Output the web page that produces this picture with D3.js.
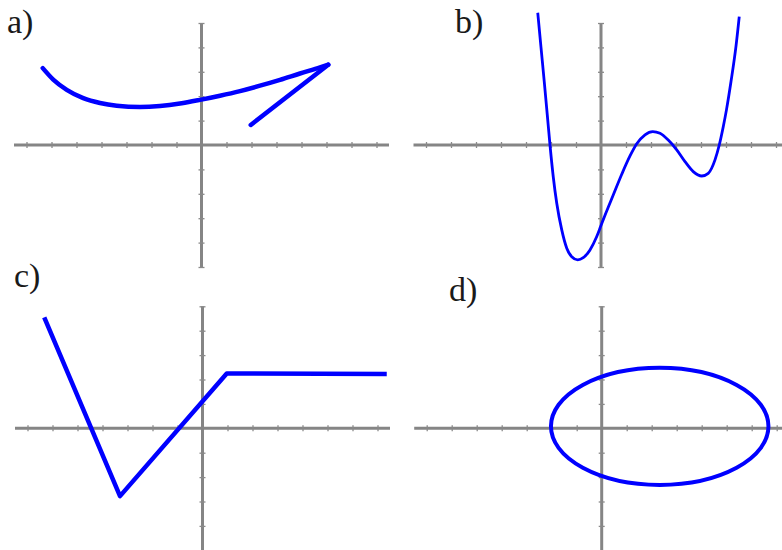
<!DOCTYPE html>
<html>
<head>
  <title>D3</title>
  <meta charset='utf-8'>
  <style>
    body { margin: 0; background: #fff; }
    svg { display: block; }
  </style>
</head>
<body>
  <div id="chart"></div>

  <script src="https://cdn.jsdelivr.net/npm/d3@7"></script>

  <script type="text/javascript">
    var width = 782,
        height = 550;

    // integer ticks on both axes
    var xTicks = [-7, -6, -5, -4, -3, -2, -1, 1, 2, 3, 4, 5, 6, 7];
    var yTicks = [-5, -4, -3, -2, -1, 1, 2, 3, 4, 5];

    var labels = ["a)", "b)", "c)", "d)"];

    // a) curve, ends in a sharp turn and a straight piece back
    var curveA = [
      [-6.35, 3.15], [-5.93, 2.68], [-5.39, 2.26], [-4.73, 1.92], [-4.06, 1.72],
      [-3.39, 1.61], [-2.46, 1.56], [-1.66, 1.60], [-0.86, 1.70], [-0.06, 1.85],
      [0.74, 2.02], [1.54, 2.21], [2.34, 2.43], [3.14, 2.67], [3.94, 2.93],
      [4.74, 3.18], [5.07, 3.29]
    ];
    var tailA = [[5.07, 3.29], [1.97, 0.82]];

    // b) wiggly curve
    var curveB = [
      [-2.53, 5.42], [-2.40, 4.00], [-2.27, 2.60], [-2.15, 1.25], [-2.04, 0],
      [-1.91, -1.30], [-1.77, -2.39], [-1.57, -3.48], [-1.37, -4.23], [-1.17, -4.58],
      [-0.93, -4.71], [-0.71, -4.62], [-0.44, -4.30], [-0.17, -3.75], [0, -3.30],
      [0.16, -2.88], [0.49, -2.05], [0.83, -1.20], [1.16, -0.45], [1.43, 0.05],
      [1.76, 0.42], [2.07, 0.55], [2.36, 0.48], [2.69, 0.20], [3.03, -0.20],
      [3.36, -0.68], [3.69, -1.09], [4.03, -1.27], [4.29, -1.16], [4.56, -0.61],
      [4.73, 0], [4.89, 0.75], [5.02, 1.45], [5.20, 2.60], [5.40, 4.05],
      [5.53, 5.26]
    ];

    // c) broken line
    var curveC = [[-6.33, 4.55], [-3.30, -2.78], [0.97, 2.25], [7.37, 2.23]];

    // d) ellipse: centre x, centre y, radius x, radius y
    var ellipseD = [2.32, 0.08, 4.35, 2.40];

    var panels = [
      {ox: 201.5, oy: 145,   lx: 7,   ly: 33,  type: "a"},
      {ox: 601,   oy: 145,   lx: 455, ly: 33,  type: "b"},
      {ox: 202.5, oy: 428.3, lx: 14,  ly: 287, type: "c"},
      {ox: 601.7, oy: 428.3, lx: 449, ly: 301, type: "d"}
    ];

    var chart = d3.select("#chart")
                  .append("svg")
                  .attr("width", width)
                  .attr("height", height);

    var blue = "#0000ff";

    panels.forEach(function(p, i) {
      var x = d3.scaleLinear().domain([-7.5, 7.5]).range([p.ox - 187.5, p.ox + 187.5]);
      var y = d3.scaleLinear().domain([-5, 5]).range([p.oy + 122, p.oy - 122]);
      var g = chart.append("g");

      // axis lines
      g.append("line")
        .attr("x1", x(-7.5)).attr("x2", x(7.5))
        .attr("y1", y(0)).attr("y2", y(0))
        .style("stroke", "#858585").style("stroke-width", 3);
      g.append("line")
        .attr("x1", x(0)).attr("x2", x(0))
        .attr("y1", y(-5)).attr("y2", y(5))
        .style("stroke", "#858585").style("stroke-width", 3);

      // tick marks, centred on the axes
      var ax = g.append("g")
        .attr("transform", "translate(0," + (y(0) - 3) + ")")
        .call(d3.axisBottom(x).tickValues(xTicks).tickSize(6).tickSizeOuter(0).tickFormat(""));
      ax.select(".domain").remove();
      ax.selectAll("line").style("stroke", "#8a8a8a").style("stroke-width", 1.3);

      var ay = g.append("g")
        .attr("transform", "translate(" + (x(0) - 3) + ",0)")
        .call(d3.axisRight(y).tickValues(yTicks).tickSize(6).tickSizeOuter(0).tickFormat(""));
      ay.select(".domain").remove();
      ay.selectAll("line").style("stroke", "#8a8a8a").style("stroke-width", 1.3);

      var line = d3.line()
        .x(function(d) { return x(d[0]); })
        .y(function(d) { return y(d[1]); });

      if (p.type == "a") {
        g.append("path")
          .attr("d", line.curve(d3.curveMonotoneX)(curveA))
          .style("fill", "none").style("stroke", blue)
          .style("stroke-width", 4.5).style("stroke-linecap", "round");
        g.append("path")
          .attr("d", line.curve(d3.curveLinear)(tailA))
          .style("fill", "none").style("stroke", blue)
          .style("stroke-width", 4.5).style("stroke-linecap", "round");
      } else if (p.type == "b") {
        g.append("path")
          .attr("d", line.curve(d3.curveMonotoneX)(curveB))
          .style("fill", "none").style("stroke", blue)
          .style("stroke-width", 2.8).style("stroke-linejoin", "round");
      } else if (p.type == "c") {
        g.append("path")
          .attr("d", line.curve(d3.curveLinear)(curveC))
          .style("fill", "none").style("stroke", blue)
          .style("stroke-width", 4.5).style("stroke-linejoin", "round");
      } else {
        g.append("ellipse")
          .attr("cx", x(ellipseD[0]))
          .attr("cy", y(ellipseD[1]))
          .attr("rx", x(ellipseD[2]) - x(0))
          .attr("ry", y(0) - y(ellipseD[3]))
          .style("fill", "none").style("stroke", blue)
          .style("stroke-width", 4);
      }

      chart.append("text")
        .attr("x", p.lx)
        .attr("y", p.ly)
        .style("font-family", "'Liberation Serif', 'Times New Roman', serif")
        .style("font-size", "34px")
        .style("fill", "#1a1a1a")
        .text(labels[i]);
    });
  </script>
</body>
</html>
